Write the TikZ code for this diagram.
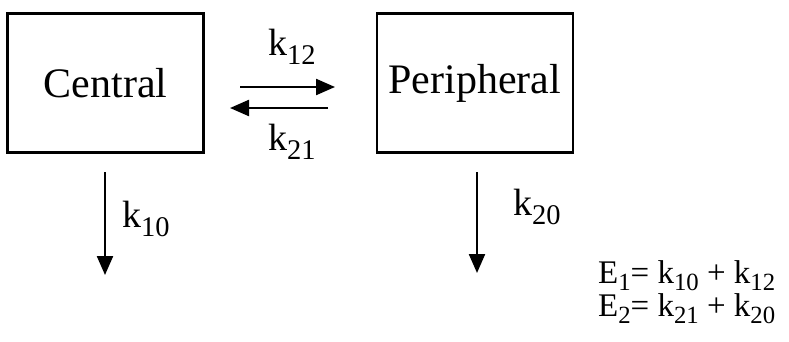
\documentclass[tikz,border=0pt]{standalone}
\usepackage{fontspec}
\setmainfont{Liberation Serif}
\usetikzlibrary{arrows.meta, positioning}
\newcommand{\lowsub}[1]{\raisebox{-0.24em}{\scalebox{0.75}{#1}}}
\newcommand{\rate}[1]{k\lowsub{#1}}

\begin{document}
\begin{tikzpicture}[
  x=1pt, y=1pt,
  >={Triangle[length=19pt, width=16pt]},
  compartment/.style={draw, line width=2.3pt, minimum width=196pt, minimum height=139pt,
                      inner sep=0pt, font=\fontsize{42}{48}\selectfont},
  ratelabel/.style={anchor=base west, inner sep=0pt, font=\fontsize{38}{44}\selectfont},
  eqlabel/.style={anchor=base west, inner sep=0pt, font=\fontsize{33}{36}\selectfont},
  flow/.style={->, line width=2.3pt}
]
\useasboundingbox (0,0) rectangle (789,341);

\node[compartment] (central) at (105.5,258) {Central};
\node[compartment, right=171pt of central] (peripheral) {Peripheral};

% exchange between the compartments
\coordinate (a12) at (240,254);
\coordinate (b12) at (335,254);
\coordinate (a21) at (328,233);
\coordinate (b21) at (230,233);
\draw[flow] (a12) -- (b12);
\draw[flow] (a21) -- (b21);
\node[ratelabel] (k12) at (268,286) {\rate{12}};
\node[ratelabel] (k21) at (268,191) {\rate{21}};

% elimination
\coordinate (in1) at (105,169);
\coordinate (out1) at (105,66);
\coordinate (in2) at (477,169);
\coordinate (out2) at (477,68);
\draw[flow] (in1) -- (out1);
\draw[flow] (in2) -- (out2);
\node[ratelabel] (k10) at (122,114) {\rate{10}};
\node[ratelabel] (k20) at (513,126) {\rate{20}};

\node[eqlabel] (e1) at (598,58) {E\lowsub{1}= \rate{10} + \rate{12}};
\node[eqlabel] (e2) at (598,25) {E\lowsub{2}= \rate{21} + \rate{20}};

\end{tikzpicture}
\end{document}
